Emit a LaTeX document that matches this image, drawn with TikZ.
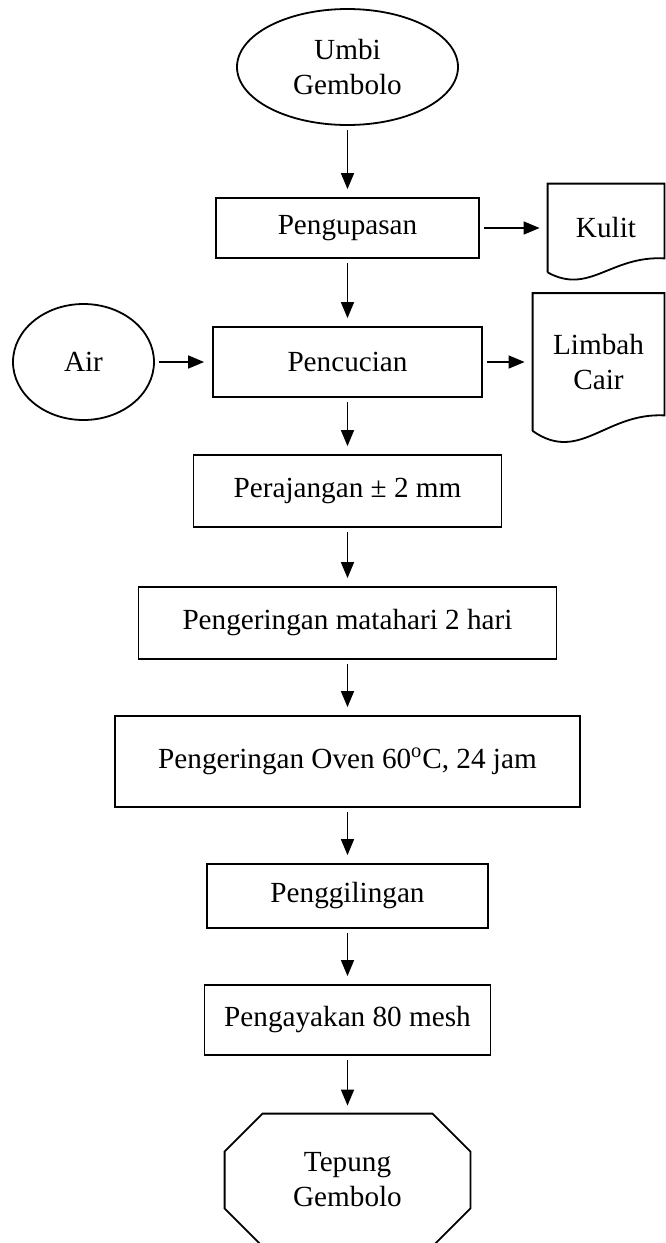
\documentclass[tikz,border=0pt]{standalone}
\usepackage{fontspec}
\setmainfont{Liberation Serif}
\usetikzlibrary{arrows.meta,shapes.geometric}

\begin{document}
\begin{tikzpicture}[x=0.5pt,y=-0.5pt,
  every node/.style={font=\fontsize{14.6pt}{17.5pt}\selectfont, align=center, inner sep=0pt},
  procbox/.style={draw, line width=0.9pt, rectangle},
  inputbox/.style={draw, line width=0.9pt, ellipse},
  docbox/.style={rectangle},
  outline/.style={line width=0.9pt},
  flow/.style={line width=0.8pt, -{Triangle[length=8pt,width=6.5pt]}, shorten <=2pt, shorten >=4pt}]
\useasboundingbox (0,0) rectangle (665,1243);
\node[inputbox, minimum width=110.5pt, minimum height=58pt] (umbi) at (347.5,67) {Umbi\\Gembolo};
\node[procbox, minimum width=131.5pt, minimum height=30pt] (kupas) at (347.5,228) {Pengupasan};
\node[docbox, minimum width=58pt, minimum height=44pt] (kulit) at (606,228) {Kulit};
\node[inputbox, minimum width=70.5pt, minimum height=58pt] (air) at (83.5,362) {Air};
\node[procbox, minimum width=134.5pt, minimum height=35pt] (cuci) at (347.5,362) {Pencucian};
\node[docbox, minimum width=65.5pt, minimum height=68.5pt] (limbah) at (598.5,362) {Limbah\\Cair};
\node[procbox, minimum width=154pt, minimum height=36pt] (rajang) at (347.5,491) {Perajangan ± 2 mm};
\node[procbox, minimum width=209pt, minimum height=36pt] (matahari) at (347.5,623) {Pengeringan matahari 2 hari};
\node[procbox, minimum width=232.5pt, minimum height=45.5pt] (oven) at (347.5,761.5) {Pengeringan Oven 60\textsuperscript{o}C, 24 jam};
\node[procbox, minimum width=140.5pt, minimum height=32pt] (giling) at (347.5,896) {Penggilingan};
\node[procbox, minimum width=143pt, minimum height=35pt] (ayak) at (347.5,1020) {Pengayakan 80 mesh};
\node[docbox, minimum width=122.5pt, minimum height=66pt] (tepung) at (347.5,1180) {Tepung\\Gembolo};

\draw[outline] (kulit.south west) -- (kulit.north west) -- (kulit.north east) -- ([yshift=7pt]kulit.south east)
  .. controls ([xshift=-27pt,yshift=8.5pt]kulit.south east) and ([xshift=21pt,yshift=-11.5pt]kulit.south west) .. (kulit.south west);
\draw[outline] (limbah.south west) -- (limbah.north west) -- (limbah.north east) -- ([yshift=7.75pt]limbah.south east)
  .. controls ([xshift=-29.5pt,yshift=9.25pt]limbah.south east) and ([xshift=23.5pt,yshift=-16.5pt]limbah.south west) .. (limbah.south west);
\draw[outline] ([xshift=19pt]tepung.north west) -- ([xshift=-19pt]tepung.north east) -- ([yshift=-19pt]tepung.north east)
  -- ([yshift=19pt]tepung.south east) -- ([xshift=-19pt]tepung.south east) -- ([xshift=19pt]tepung.south west)
  -- ([yshift=19pt]tepung.south west) -- ([yshift=-19pt]tepung.north west) -- cycle;

\draw[flow] (umbi) -- (kupas);
\draw[flow] (kupas) -- (kulit);
\draw[flow] (kupas) -- (cuci);
\draw[flow] (air) -- (cuci);
\draw[flow] (cuci) -- (limbah);
\draw[flow] (cuci) -- (rajang);
\draw[flow] (rajang) -- (matahari);
\draw[flow] (matahari) -- (oven);
\draw[flow] (oven) -- (giling);
\draw[flow] (giling) -- (ayak);
\draw[flow] (ayak) -- (tepung);
\end{tikzpicture}
\end{document}
